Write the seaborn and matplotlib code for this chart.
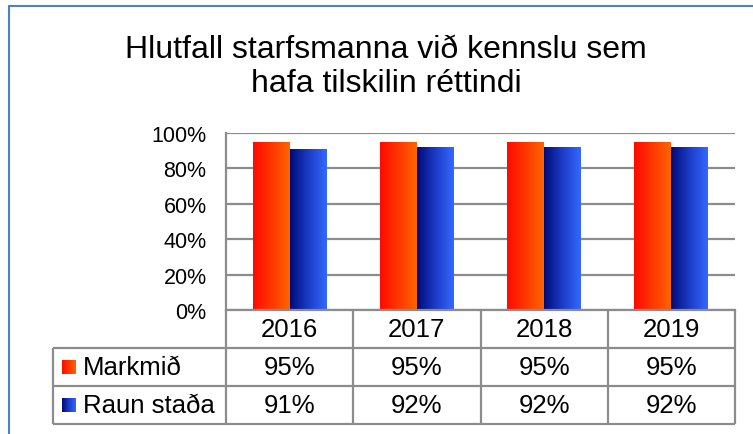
import numpy as np
import pandas as pd
import matplotlib
matplotlib.use('Agg')
import matplotlib.pyplot as plt
from matplotlib.colors import LinearSegmentedColormap
from matplotlib.lines import Line2D
from matplotlib.ticker import PercentFormatter
import seaborn as sns

# data
years = ['2016', '2017', '2018', '2019']
series = ['Markmið', 'Raun staða']
markmid = [95, 95, 95, 95]
raun_stada = [91, 92, 92, 92]
title = 'Hlutfall starfsmanna við kennslu sem\nhafa tilskilin réttindi'

df = pd.DataFrame({
    'year': years * 2,
    'series': [series[0]] * 4 + [series[1]] * 4,
    'value': [v / 100 for v in markmid + raun_stada],
})

sns.set_style('white')
plt.rcParams['font.family'] = ['Liberation Sans', 'DejaVu Sans']
plt.rcParams['text.color'] = 'black'
plt.rcParams['ytick.labelcolor'] = 'black'

W, H = 753, 435
fig = plt.figure(figsize=(W / 100, H / 100), dpi=100)

# pixel layout of the Excel chart
plot_l, plot_r, plot_t, plot_b = 226, 735, 134, 311
table_l, table_b = 53, 425
grid_col = '#8c8c8c'

ax = fig.add_axes([plot_l / W, (H - plot_b) / H, (plot_r - plot_l) / W, (plot_b - plot_t) / H])
sns.barplot(data=df, x='year', y='value', hue='series', hue_order=series,
            width=0.58, gap=0, legend=False, ax=ax, edgecolor='none')

ax.set_xlim(-0.5, 3.5)
ax.set_ylim(0, 1)
ax.set_yticks(np.arange(0, 1.01, 0.2))
ax.yaxis.set_major_formatter(PercentFormatter(1.0, decimals=0))
ax.tick_params(axis='y', length=0, pad=14, labelsize=15.5, labelcolor='black')
ax.set_xticks([])
ax.set_xlabel('')
ax.set_ylabel('')
ax.grid(axis='y', color=grid_col, lw=1.6)
ax.set_axisbelow(True)
for s in ['top', 'right']:
    ax.spines[s].set_visible(False)
for s in ['left', 'bottom']:
    ax.spines[s].set_color(grid_col)
    ax.spines[s].set_linewidth(1.6)

# horizontal gradients like the Excel fill
cmaps = [LinearSegmentedColormap.from_list('o', ['#ff0a00', '#ff6400']),
         LinearSegmentedColormap.from_list('b', ['#000a78', '#1c3cc8', '#3468ff'])]
grad = np.linspace(0, 1, 256).reshape(1, -1)
bars = list(ax.patches)
for i, p in enumerate(bars):
    cm = cmaps[i // len(years)]
    x0, y0 = p.get_x(), p.get_y()
    im = ax.imshow(grad, cmap=cm, aspect='auto', interpolation='bilinear',
                   extent=[x0, x0 + p.get_width(), y0, y0 + p.get_height()], zorder=2)
    im.set_clip_path(p)
    p.set_facecolor('none')
ax.set_xlim(-0.5, 3.5)
ax.set_ylim(0, 1)

# data table under the plot
unit = (plot_r - plot_l) / 4
x_left = -0.5 - (plot_l - table_l) / unit
tax = fig.add_axes([table_l / W, (H - table_b) / H, (plot_r - table_l) / W, (table_b - plot_b) / H])
tax.set_xlim(x_left, 3.5)
tax.set_ylim(3, 0)
tax.axis('off')
row_px = (table_b - plot_b) / 3

tax.hlines([1, 2, 3], x_left, 3.5, color=grid_col, lw=1.6, clip_on=False)
tax.vlines([x_left], 1, 3, color=grid_col, lw=1.6, clip_on=False)
tax.vlines(np.arange(-0.5, 3.6, 1), 0, 3, color=grid_col, lw=1.6, clip_on=False)

fs = 18.5
for i, y in enumerate(years):
    tax.text(i, 0.5, y, ha='center', va='center', fontsize=fs)
for r, vals in enumerate([markmid, raun_stada]):
    for i, v in enumerate(vals):
        tax.text(i, r + 1.5, f'{v}%', ha='center', va='center', fontsize=fs)
    sw = 14 / row_px
    sx0 = x_left + 9 / unit
    tax.imshow(grad, cmap=cmaps[r], aspect='auto', interpolation='bilinear',
               extent=[sx0, sx0 + 14 / unit, r + 1.5 + sw / 2, r + 1.5 - sw / 2])
    tax.text(x_left + 30 / unit, r + 1.5, series[r], ha='left', va='center', fontsize=fs)
tax.set_xlim(x_left, 3.5)
tax.set_ylim(3, 0)

fig.text(386 / W, 1 - 67 / H, title, ha='center', va='center', fontsize=23, linespacing=1.15)

# chart area border (top and left edges visible)
bc = '#4f81bd'
fig.add_artist(Line2D([9 / W, 9 / W], [0, 1 - 7 / H], transform=fig.transFigure, color=bc, lw=1.5))
fig.add_artist(Line2D([9 / W, 1], [1 - 7 / H, 1 - 7 / H], transform=fig.transFigure, color=bc, lw=1.5))

fig.savefig('out.png', dpi=100)
